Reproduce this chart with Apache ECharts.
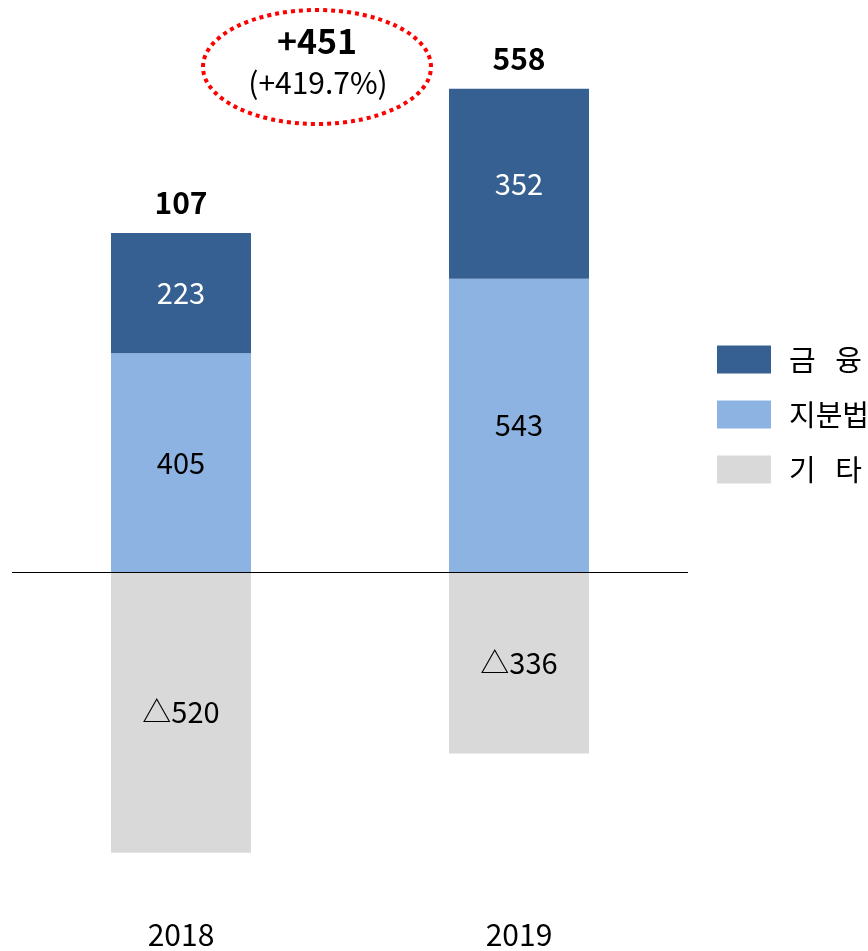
<!DOCTYPE html>
<html>
<head>
<meta charset="utf-8">
<script src="https://cdn.jsdelivr.net/npm/echarts@6/dist/echarts.min.js"></script>
<style>
  html, body { margin: 0; padding: 0; background: #fff; }
  #chart { width: 868px; height: 951px; }
</style>
</head>
<body>
<div id="chart"></div>
<script>
const years = ['2018', '2019']
const equity = [405, 543]      // 지분법
const finance = [223, 352]     // 금 융
const others = [-520, -336]    // 기 타
const totals = [107, 558]
const diffText = '+451'
const diffRate = '(+419.7%)'

const font = 'Noto Sans CJK KR'
const chart = echarts.init(document.getElementById('chart'))

// top of the positive stack, where the total label sits
const topOfStack = equity.map((v, i) => v + finance[i])

function fmt (p) {
  return p.value < 0 ? '△' + Math.abs(p.value) : String(p.value)
}

const option = {
  animation: false,
  textStyle: { fontFamily: font },
  grid: { left: 12, right: 180, top: 32, bottom: 55 },
  legend: {
    orient: 'vertical',
    left: 717,
    top: 345,
    padding: 0,
    itemWidth: 54,
    itemHeight: 28,
    itemGap: 26,
    icon: 'rect',
    data: ['금   융', '지분법', '기   타'],
    textStyle: { fontSize: 29, color: '#000', fontFamily: font, padding: [0, 0, 0, 13] }
  },
  xAxis: {
    type: 'category',
    data: years,
    axisLine: { show: false },
    axisTick: { show: false },
    axisLabel: { fontSize: 30, color: '#000', margin: 24, fontFamily: font }
  },
  yAxis: {
    type: 'value',
    min: -600,
    max: 1000,
    show: false
  },
  series: [
    {
      name: '지분법',
      type: 'bar',
      stack: 'total',
      barWidth: 140,
      data: equity,
      itemStyle: { color: '#8db3e2' },
      label: { show: true, position: 'inside', fontSize: 29, color: '#000', formatter: fmt, fontFamily: font },
      markLine: {
        silent: true,
        symbol: 'none',
        label: { show: false },
        lineStyle: { color: '#000', width: 1, type: 'solid' },
        data: [{ yAxis: 0 }]
      }
    },
    {
      name: '금   융',
      type: 'bar',
      stack: 'total',
      barWidth: 140,
      data: finance,
      itemStyle: { color: '#366092' },
      label: { show: true, position: 'inside', fontSize: 29, color: '#fff', formatter: fmt, fontFamily: font }
    },
    {
      name: '기   타',
      type: 'bar',
      stack: 'total',
      barWidth: 140,
      data: others,
      itemStyle: { color: '#d9d9d9' },
      label: { show: true, position: 'inside', fontSize: 29, color: '#000', formatter: fmt, fontFamily: font }
    },
    {
      name: 'total',
      type: 'scatter',
      symbolSize: 0,
      itemStyle: { color: '#000', opacity: 1 },
      data: topOfStack,
      label: {
        show: true,
        position: 'top',
        distance: 15,
        fontSize: 30,
        fontWeight: 'bold',
        color: '#000',
        fontFamily: font,
        formatter: p => String(totals[p.dataIndex])
      }
    }
  ],
  graphic: [
    {
      type: 'ellipse',
      shape: { cx: 317, cy: 67, rx: 114, ry: 57 },
      style: { fill: 'none', stroke: '#ff0000', lineWidth: 4, lineDash: [4, 4] }
    },
    {
      type: 'text',
      x: 317,
      y: 41,
      style: { text: diffText, fontSize: 34, fontWeight: 'bold', fill: '#000', align: 'center', verticalAlign: 'middle', fontFamily: font }
    },
    {
      type: 'text',
      x: 318,
      y: 83,
      style: { text: diffRate, fontSize: 30, fill: '#000', align: 'center', verticalAlign: 'middle', fontFamily: font }
    }
  ]
}

chart.setOption(option)
</script>
</body>
</html>
